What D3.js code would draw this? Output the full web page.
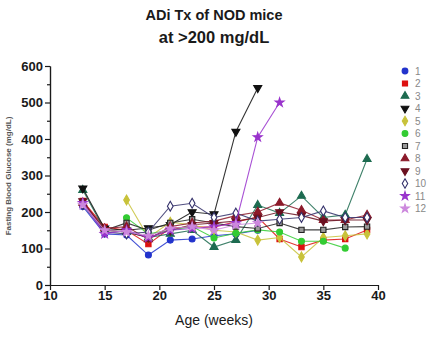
<!DOCTYPE html>
<meta charset="utf-8">
<html>
<head>
<script src="https://d3js.org/d3.v7.min.js"></script>
<style>
  html, body { margin: 0; background: #fff; }
  text { font-family: "Liberation Sans", Arial, sans-serif; }
  .title { font-weight: bold; fill: #1a1a1a; }
  .tick text { font-weight: bold; font-size: 13px; fill: #1a1a1a; }
  .axis path, .axis line { stroke: #1a1a1a; stroke-width: 1.2px; }
  .legend text { font-size: 10px; fill: #888; }
</style>
</head>
<body>
<svg id="chart" width="433" height="338"></svg>
<script>
// weeks sampled
var weeks = [13, 15, 17, 19, 21, 23, 25, 27, 29, 31, 33, 35, 37, 39];

// fasting blood glucose per mouse (null = not measured)
var mouse1  = [215, 140, 137, 82, 123, 126, 135, 140, 150, null, null, null, null, null];
var mouse2  = [230, 159, 150, 112, 156, 159, 159, 173, 186, 126, 104, 123, 126, 151];
var mouse3  = [260, 150, 145, 130, 140, 150, 104, 123, 219, 197, 244, 185, 192, 345];
var mouse4  = [265, 155, 150, 156, 165, 200, 194, 420, 540, null, null, null, null, null];
var mouse5  = [null, null, 233, 130, 172, 165, 150, 145, 123, 130, 77, 130, 135, 140];
var mouse6  = [null, null, 184, 140, 150, 160, 129, 142, 151, 145, 120, 120, 101, null];
var mouse7  = [220, 150, 170, 150, 170, 180, 170, 160, 155, 170, 151, 151, 159, 160];
var mouse8  = [225, 155, 160, 125, 160, 170, 175, 190, 200, 225, 205, 178, 178, 192];
var mouse9  = [230, 150, 145, 130, 150, 165, 170, 175, 185, 200, 190, 175, 178, 178];
var mouse10 = [220, 145, 140, 145, 216, 224, 185, 197, 175, 180, 185, 203, 185, 185];
var mouse11 = [225, 140, 150, 130, 150, 155, 160, 170, 405, 500, null, null, null, null];
var mouse12 = [220, 150, 145, 135, 155, 160, 150, 165, 170, null, null, null, null, null];

var labels = ["1", "2", "3", "4", "5", "6", "7", "8", "9", "10", "11", "12"];
var xTicks = [10, 15, 20, 25, 30, 35, 40];
var yTicks = [0, 100, 200, 300, 400, 500, 600];

var allSeries = [mouse1, mouse2, mouse3, mouse4, mouse5, mouse6,
                 mouse7, mouse8, mouse9, mouse10, mouse11, mouse12];

// look of each mouse: colour, fill, symbol, rotation
var styles = [
  {c: "#2233cc", f: "#2233cc", s: d3.symbolCircle, r: 0},
  {c: "#dd1111", f: "#dd1111", s: d3.symbolSquare, r: 0},
  {c: "#1d6b50", f: "#1d6b50", s: d3.symbolTriangle, r: 0},
  {c: "#111111", f: "#111111", s: d3.symbolTriangle, r: 180},
  {c: "#c8c23a", f: "#c8c23a", s: d3.symbolDiamond, r: 0},
  {c: "#33cc33", f: "#33cc33", s: d3.symbolCircle, r: 0},
  {c: "#222222", f: "#999999", s: d3.symbolSquare, r: 0},
  {c: "#8b1a2a", f: "#8b1a2a", s: d3.symbolTriangle, r: 0},
  {c: "#6a1020", f: "#6a1020", s: d3.symbolTriangle, r: 180},
  {c: "#33306a", f: "#ffffff", s: d3.symbolDiamond, r: 0},
  {c: "#9933cc", f: "#9933cc", s: d3.symbolStar, r: 0},
  {c: "#cc88dd", f: "#cc88dd", s: d3.symbolStar, r: 0}
];

var svg = d3.select("#chart");

var x = d3.scaleLinear().domain([10, 40]).range([50, 378]);
var y = d3.scaleLinear().domain([0, 600]).range([285, 66]);

// titles
svg.append("text").attr("class", "title")
  .attr("x", 214).attr("y", 20).attr("text-anchor", "middle")
  .style("font-size", "14.5px").text("ADi Tx of NOD mice");
svg.append("text").attr("class", "title")
  .attr("x", 214).attr("y", 43).attr("text-anchor", "middle")
  .style("font-size", "16.5px").text("at >200 mg/dL");

// axes
svg.append("g").attr("class", "axis")
  .attr("transform", "translate(0,285)")
  .call(d3.axisBottom(x).tickValues(xTicks).tickSize(5).tickSizeOuter(0).tickPadding(1));

svg.append("g").attr("class", "axis")
  .attr("transform", "translate(50,0)")
  .call(d3.axisLeft(y).tickValues(d3.range(50, 600, 100)).tickSize(3).tickFormat("").tickSizeOuter(0));

svg.append("g").attr("class", "axis")
  .attr("transform", "translate(50,0)")
  .call(d3.axisLeft(y).tickValues(yTicks).tickSize(5).tickSizeOuter(0).tickPadding(2));

svg.append("text")
  .attr("transform", "translate(11,176) rotate(-90)")
  .attr("text-anchor", "middle")
  .style("font-size", "8px").style("font-weight", "bold").style("fill", "#555")
  .text("Fasting Blood Glucose (mg/dL)");

svg.append("text")
  .attr("x", 214).attr("y", 325).attr("text-anchor", "middle")
  .style("font-size", "14px").style("fill", "#1a1a1a")
  .text("Age (weeks)");

// lines + markers
var line = d3.line()
  .defined(function(d) { return d.v != null; })
  .x(function(d) { return x(d.w); })
  .y(function(d) { return y(d.v); });

allSeries.forEach(function(vals, i) {
  var st = styles[i];
  var pts = weeks.map(function(w, j) { return {w: w, v: vals[j]}; });
  svg.append("path").datum(pts)
    .attr("d", line)
    .attr("fill", "none")
    .attr("stroke", st.c)
    .attr("stroke-width", 1.1)
    .attr("opacity", 0.85);
  svg.append("g").selectAll("path")
    .data(pts.filter(function(d) { return d.v != null; }))
    .enter().append("path")
    .attr("d", d3.symbol().type(st.s).size(st.s === d3.symbolStar ? 24 : 28))
    .attr("transform", function(d) {
      return "translate(" + x(d.w) + "," + y(d.v) + ") rotate(" + st.r + ")";
    })
    .attr("fill", st.f)
    .attr("stroke", st.c)
    .attr("stroke-width", 1.1);
});

// legend
var lg = svg.append("g").attr("class", "legend");
labels.forEach(function(lab, i) {
  var st = styles[i];
  var ly = 71 + i * 12.5;
  lg.append("path")
    .attr("d", d3.symbol().type(st.s).size(st.s === d3.symbolStar ? 22 : 26))
    .attr("transform", "translate(405," + ly + ") rotate(" + st.r + ")")
    .attr("fill", st.f).attr("stroke", st.c).attr("stroke-width", 1.1);
  lg.append("text").attr("x", 415).attr("y", ly + 3.5).text(lab);
});
</script>
</body>
</html>
